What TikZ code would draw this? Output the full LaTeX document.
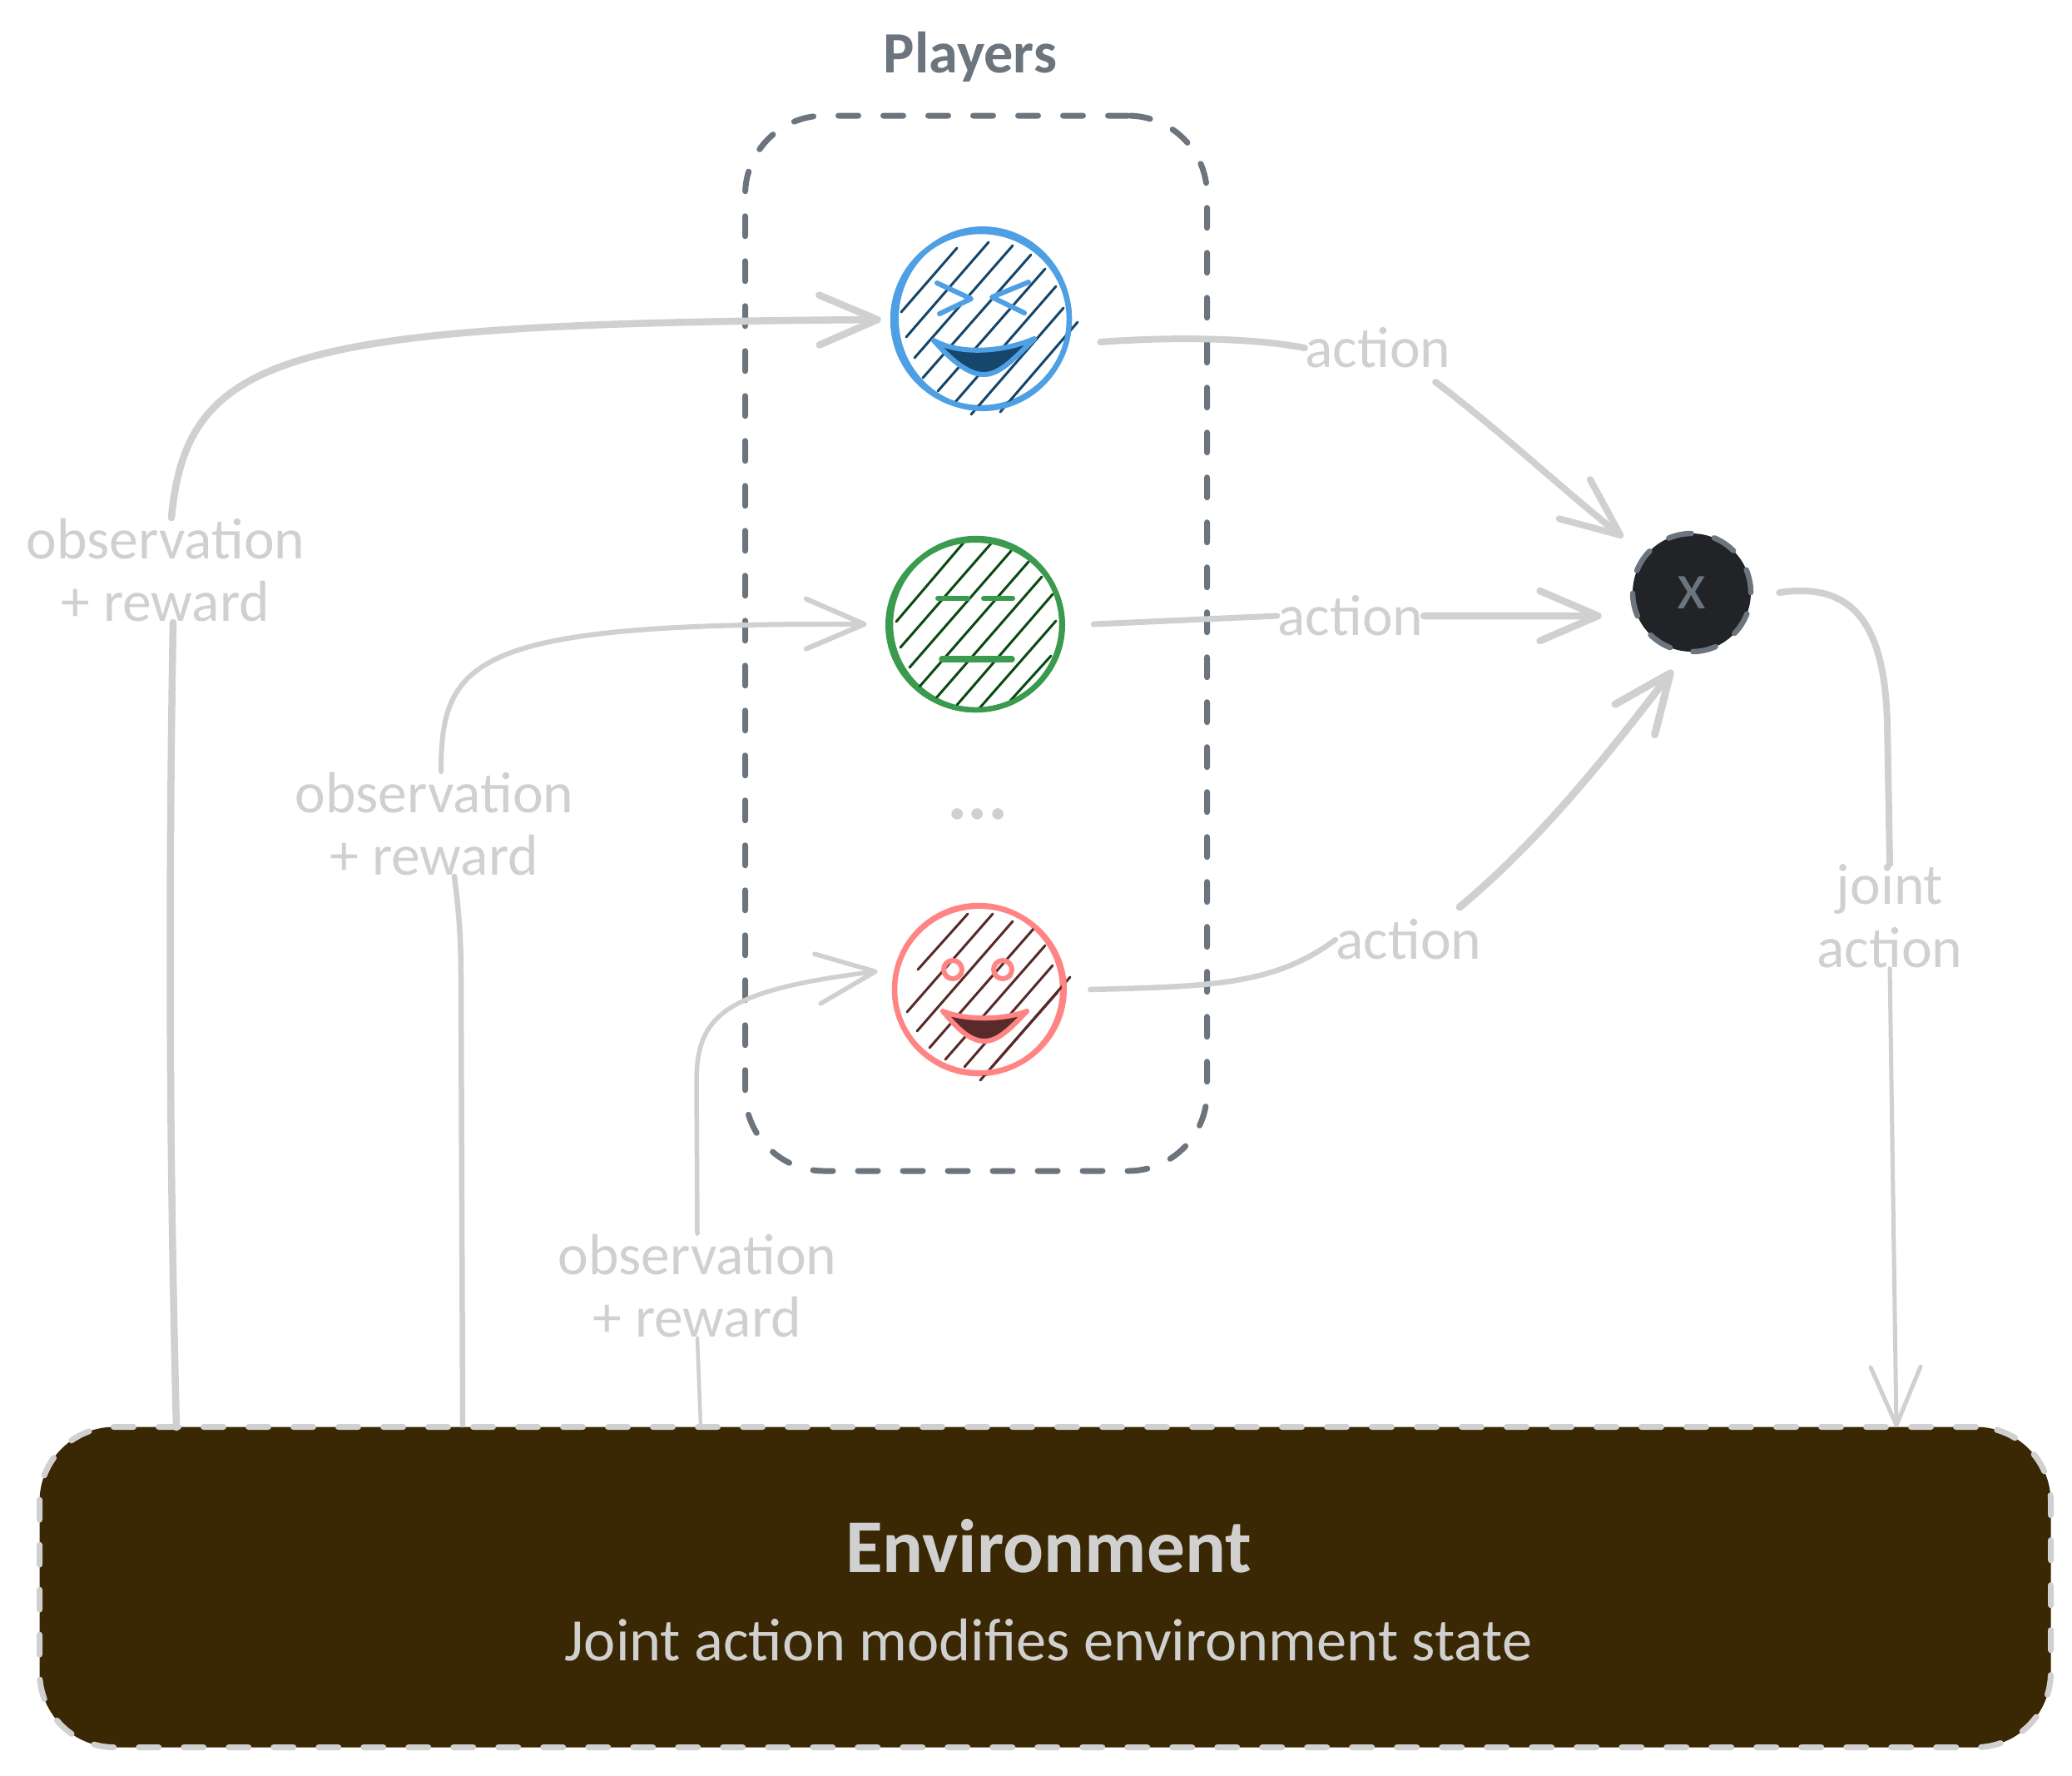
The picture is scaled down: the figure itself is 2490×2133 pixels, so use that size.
\documentclass[tikz,border=0pt]{standalone}
\usepackage{fontspec}
\setmainfont{Carlito}
\usetikzlibrary{arrows.meta, positioning}
\definecolor{flowgray}{HTML}{D0D0D0}
\definecolor{slategray}{HTML}{6C757D}
\definecolor{envbrown}{HTML}{3A2703}
\definecolor{multdark}{HTML}{212327}
\definecolor{blueline}{HTML}{4F9FE5}
\definecolor{bluehatch}{HTML}{15466B}
\definecolor{greenline}{HTML}{3A9A4E}
\definecolor{greenhatch}{HTML}{0A4A14}
\definecolor{redline}{HTML}{FF8585}
\definecolor{redhatch}{HTML}{5A2A2A}
\tikzset{
  flow/.style      = {draw=flowgray, line width=0.65mm, line cap=round},
  flowhead/.style  = {flow, -{Straight Barb[length=7mm, width=6mm, round]}},
  flowlabel/.style = {text=flowgray, align=center, inner sep=0pt,
                      font=\fontsize{19.8}{21.5}\selectfont},
  facering/.style  = {draw=#1, circle, line width=0.65mm, inner sep=0pt},
  faceline/.style  = {draw=#1, line width=0.6mm, line cap=round, line join=round},
  hatch/.style     = {draw=#1, line width=0.3mm, line cap=round},
}
\begin{document}
\begin{tikzpicture}[x=0.1mm, y=-0.1mm]
  \useasboundingbox (0,0) rectangle (2490,2133);

  \node[draw=slategray, line width=0.7mm, dash pattern=on 2.4mm off 3mm, line cap=round,
        rounded corners=9.5mm, minimum width=55.5mm, minimum height=126.8mm]
        (players) at (1173,773) {};
  \node[text=slategray, inner sep=0pt, font=\fontsize{20}{21.5}\selectfont\bfseries]
        (playerstitle) at (1166,68) {Players};

  \node[fill=envbrown, draw=flowgray, line width=0.7mm, dash pattern=on 2.4mm off 3mm, line cap=round,
        rounded corners=9mm, minimum width=241.7mm, minimum height=38.5mm]
        (env) at (1256,1907) {};
  \node[text=flowgray, inner sep=0pt, font=\fontsize{26}{30}\selectfont\bfseries]
        (envtitle) at (1260,1858) {Environment};
  \node[text=flowgray, inner sep=0pt, font=\fontsize{20.6}{23}\selectfont]
        (envtext) at (1260,1971) {Joint action modifies environment state};

  % players
  \node[facering=blueline, minimum size=21.2mm]  (blueface)  at (1179,384)  {};
  \node[facering=greenline, minimum size=20.6mm] (greenface) at (1173,750)  {};
  \node[facering=redline, minimum size=20.2mm]   (redface)   at (1176,1189) {};
  \node[text=flowgray, inner sep=0pt, font=\fontsize{26}{26}\selectfont\bfseries]
        (moreplayers) at (1175,978) {...};

  \foreach \xa/\ya/\xb/\yb in {1150/298/1083/375, 1188/291/1089/405, 1217/295/1099/430, 1239/306/1109/454,
                               1256/323/1127/470, 1269/344/1148/483, 1278/370/1167/498, 1295/387/1202/495}
    \draw[hatch=bluehatch] (\xa,\ya) -- (\xb,\yb);
  \foreach \xa/\ya/\xb/\yb in {1158/652/1077/747, 1191/653/1082/778, 1215/662/1093/802, 1236/675/1105/825,
                               1252/693/1123/841, 1265/714/1150/847, 1269/746/1177/851, 1263/788/1214/842}
    \draw[hatch=greenhatch] (\xa,\ya) -- (\xb,\yb);
  \foreach \xa/\ya/\xb/\yb in {1163/1098/1103/1165, 1193/1098/1090/1216, 1217/1107/1102/1239, 1242/1116/1117/1259,
                               1256/1136/1136/1273, 1265/1160/1159/1282, 1286/1174/1178/1298, 1271/1192/1192/1282}
    \draw[hatch=redhatch] (\xa,\ya) -- (\xb,\yb);

  \draw[faceline=blueline] (1181,383) ellipse [x radius=104, y radius=108];
  \draw[faceline=greenline] (1172,751) ellipse [x radius=105, y radius=102];
  \draw[faceline=redline] (1177,1189) ellipse [x radius=102, y radius=100];

  \draw[faceline=blueline] (1126,340) -- (1167,359) -- (1129,377);
  \draw[faceline=blueline] (1236,339) -- (1192,357) -- (1231,376);
  \draw[faceline=blueline, fill=bluehatch] (1122,409) .. controls (1150,425) and (1200,425) .. (1243,407)
    .. controls (1215,435) and (1200,450) .. (1182,450) .. controls (1165,450) and (1145,435) .. (1122,409) -- cycle;

  \draw[faceline=greenline] (1127,719) -- (1163,719);
  \draw[faceline=greenline] (1182,719) -- (1217,719);
  \draw[faceline=greenline, line width=0.75mm] (1132,792) -- (1216,792);

  \draw[faceline=redline] (1145,1165) circle [radius=11];
  \draw[faceline=redline] (1205,1165) circle [radius=11];
  \draw[faceline=redline, fill=redhatch] (1133,1215) .. controls (1160,1226) and (1205,1226) .. (1234,1215)
    .. controls (1215,1235) and (1200,1251) .. (1183,1251) .. controls (1165,1251) and (1150,1235) .. (1133,1215) -- cycle;

  % joint action
  \node[circle, fill=multdark, draw=slategray, line width=0.65mm, dash pattern=on 2.8mm off 2.8mm, line cap=round,
        minimum size=14.2mm, inner sep=0pt, text=slategray, font=\fontsize{23}{23}\selectfont]
        (joint) at (2033,712) {x};

  % labels
  \node[flowlabel] (obsblue)  at (199,685)  {observation\\+ reward};
  \node[flowlabel] (obsgreen) at (522,990)  {observation\\+ reward};
  \node[flowlabel] (obsred)   at (838,1545) {observation\\+ reward};
  \node[flowlabel] (actblue)  at (1656,418)  {action};
  \node[flowlabel] (actgreen) at (1623,740)  {action};
  \node[flowlabel] (actred)   at (1693,1129) {action};
  \node[flowlabel] (jointact) at (2271,1101) {joint\\action};

  % connectors
  \coordinate (envblue)  at (212,1715);
  \coordinate (envgreen) at (556,1712);
  \coordinate (envred)   at (842,1712);
  \coordinate (envjoint) at (2279,1715);

  \draw[flow, line width=0.85mm] (envblue) .. controls (204,1400) and (202,1100) .. (obsblue.south -| 208,0);
  \draw[flowhead, line width=0.85mm] (obsblue.north -| 206,0) .. controls (225,420) and (350,389) .. ([xshift=-1.1mm]blueface.west);
  \draw[flow, line width=0.65mm] (envgreen) -- (554,1175) .. controls (554,1130) and (552,1100) .. (obsgreen.south -| 546,0);
  \draw[flowhead, line width=0.6mm] (obsgreen.north -| 530,0) .. controls (530,790) and (570,748) .. ([xshift=-2.5mm]greenface.west);
  \draw[flow, line width=0.45mm] (envred) -- (obsred.south);
  \draw[flowhead, line width=0.55mm] (obsred.north) -- (837,1300) .. controls (837,1220) and (870,1190) .. ([yshift=2.2mm, xshift=-1.7mm]redface.west);

  \draw[flow, line width=0.8mm] ([xshift=3.4mm, yshift=-2.7mm]blueface.east) .. controls (1400,405) and (1500,405) .. (actblue.west);
  \draw[flowhead, line width=0.8mm] ([xshift=-1.9mm, yshift=-1.6mm]actblue.south east) .. controls (1800,515) and (1880,590) .. ([xshift=-3mm, yshift=1.4mm]joint.north west);
  \draw[flow, line width=0.7mm] ([xshift=3.5mm]greenface.east) -- (actgreen.west);
  \draw[flowhead, line width=0.85mm] (actgreen.east) -- ([xshift=-3.4mm, yshift=-2.8mm]joint.west);
  \draw[flow] ([xshift=3mm]redface.east) .. controls (1450,1185) and (1530,1185) .. (actred.west);
  \draw[flowhead, line width=0.9mm] ([xshift=-2.7mm, yshift=1.4mm]actred.north east) .. controls (1850,1010) and (1930,910) .. ([yshift=-1.9mm, xshift=-2.3mm]joint.south);

  \draw[flow, line width=0.8mm] ([xshift=3.1mm]joint.east) .. controls (2220,700) and (2265,740) .. (2268,870) -- (jointact.north);
  \draw[flowhead, line width=0.5mm] (jointact.south) -- (envjoint);
\end{tikzpicture}
\end{document}
